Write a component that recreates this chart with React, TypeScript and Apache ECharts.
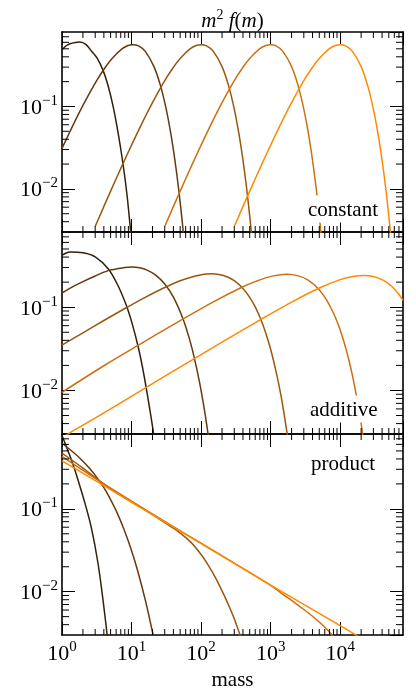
import React, { useEffect, useRef } from "react";
import * as echarts from "echarts";

// ---------- axis extents & ticks ----------
const X_MIN = 1;
const X_MAX = 80000;
const Y_MIN = 0.003;
const Y_MAX = 0.8;
const xMinorTicks = [2, 3, 4, 5, 6, 7, 8, 9, 20, 30, 40, 50, 60, 70, 80, 90, 200, 300, 400, 500, 600, 700, 800, 900, 2000, 3000, 4000, 5000, 6000, 7000, 8000, 9000, 20000, 30000, 40000, 50000, 60000, 70000];
const yMinorTicks = [0.004, 0.005, 0.006, 0.007, 0.008, 0.009, 0.02, 0.03, 0.04, 0.05, 0.06, 0.07, 0.08, 0.09, 0.2, 0.3, 0.4, 0.5, 0.6, 0.7];

const panelLabels = ["constant", "additive", "product"];
const colors = ["#33200c", "#663a0c", "#99570f", "#cc7010", "#ff8a00"];

// ---------- constant kernel ----------
const constM1 = [1, 1.15, 1.3, 1.55, 1.81, 2.2, 2.66, 3.2, 3.91, 4.6, 5.43, 6.4, 7.55, 8.6, 9.74, 10.5];
const constV1 = [0.49, 0.545, 0.575, 0.598, 0.605, 0.566, 0.468, 0.385, 0.272, 0.178, 0.1, 0.048, 0.0199, 0.0085, 0.003, 0.0017];
const constM2 = [1, 1.575, 2.1, 3.15, 4.2, 5.25, 7.35, 8.9, 10.5, 12.6, 15.75, 21, 26.25, 31.5, 36.75, 42, 47.25, 52.5, 57.75, 63];
const constV2 = [0.031, 0.0693, 0.1115, 0.206, 0.299, 0.382, 0.502, 0.549, 0.562, 0.542, 0.466, 0.304, 0.175, 0.0927, 0.0464, 0.0223, 0.0104, 0.0047, 0.0021, 0.0009];
const constM3 = [3, 5, 7.5, 10, 15, 20, 30, 40, 50, 70, 85, 100, 120, 150, 200, 250, 300, 350, 400, 450, 500, 550, 600];
const constV3 = [0.0035, 0.0094, 0.0201, 0.034, 0.0693, 0.1115, 0.206, 0.299, 0.382, 0.502, 0.549, 0.562, 0.542, 0.466, 0.304, 0.175, 0.0927, 0.0464, 0.0223, 0.0104, 0.0047, 0.0021, 0.0009];
const constM4 = [30, 50, 75, 100, 150, 200, 300, 400, 500, 700, 850, 1000, 1200, 1500, 2000, 2500, 3000, 3500, 4000, 4500, 5000, 5500, 6000];
const constV4 = [0.0035, 0.0094, 0.0201, 0.034, 0.0693, 0.1115, 0.206, 0.299, 0.382, 0.502, 0.549, 0.562, 0.542, 0.466, 0.304, 0.175, 0.0927, 0.0464, 0.0223, 0.0104, 0.0047, 0.0021, 0.0009];
const constM5 = [300, 500, 750, 1000, 1500, 2000, 3000, 4000, 5000, 7000, 8500, 10000, 12000, 15000, 20000, 25000, 30000, 35000, 40000, 45000, 50000, 55000, 60000];
const constV5 = [0.0035, 0.0094, 0.0201, 0.034, 0.0693, 0.1115, 0.206, 0.299, 0.382, 0.502, 0.549, 0.562, 0.542, 0.466, 0.304, 0.175, 0.0927, 0.0464, 0.0223, 0.0104, 0.0047, 0.0021, 0.0009];

// ---------- additive kernel ----------
const addM1 = [1, 1.15, 1.3, 2, 3, 4.61, 6.3, 8.45, 10.3, 12.4, 14.3, 16.3, 18.5, 20.8, 22];
const addV1 = [0.42, 0.447, 0.46, 0.452, 0.403, 0.29, 0.186, 0.104, 0.0618, 0.034, 0.0194, 0.0106, 0.0056, 0.003, 0.0022];
const addM2 = [1, 1.5, 2, 3, 4.61, 6, 8, 10, 13, 17, 22, 30, 40, 55, 68, 80, 95, 110, 122, 135];
const addV2 = [0.148, 0.18, 0.203, 0.237, 0.275, 0.287, 0.3, 0.303, 0.297, 0.277, 0.244, 0.19, 0.132, 0.0723, 0.0416, 0.0245, 0.0125, 0.0063, 0.0036, 0.002];
const addM3 = [1, 2, 4, 8, 15, 30, 50, 80, 120, 140, 180, 240, 300, 400, 500, 600, 717, 850, 1000, 1200, 1400, 1600, 1750, 1900];
const addV3 = [0.035, 0.0493, 0.0692, 0.0964, 0.1288, 0.1726, 0.2075, 0.2358, 0.2503, 0.2518, 0.2475, 0.2306, 0.2081, 0.1682, 0.1315, 0.1008, 0.0726, 0.0491, 0.0312, 0.0167, 0.0089, 0.0046, 0.0028, 0.0017];
const addM4 = [1, 4, 12.4, 50, 150, 400, 700, 1100, 1700, 2500, 3500, 4920, 6300, 8060, 9600, 11200, 13000, 14750, 16000, 17400, 19200, 21200, 22500];
const addV4 = [0.0095, 0.0198, 0.0348, 0.0689, 0.1159, 0.1759, 0.2131, 0.2377, 0.2479, 0.2379, 0.2102, 0.1645, 0.1243, 0.084, 0.0585, 0.0395, 0.0252, 0.0161, 0.0116, 0.008, 0.005, 0.0029, 0.0021];
const addM5 = [1, 1.38, 5, 16.3, 80, 250, 717, 2000, 4920, 10000, 15000, 21700, 30000, 42000, 55000, 68000, 80000];
const addV5 = [0.0027, 0.0032, 0.006, 0.0109, 0.0241, 0.0424, 0.071, 0.1152, 0.169, 0.2143, 0.2339, 0.241, 0.2341, 0.21, 0.1783, 0.1468, 0.1208];

// ---------- product kernel ----------
const prodM1 = [1, 1.068, 1.219, 1.359, 1.535, 1.695, 2.114, 2.627, 3.28, 3.87, 4.46, 4.78];
const prodV1 = [0.767, 0.668, 0.5, 0.395, 0.292, 0.224, 0.121, 0.0605, 0.0225, 0.0082, 0.003, 0.0018];
const prodM2 = [1, 1.302, 1.81, 2.52, 3.28, 4.0, 4.87, 6.14, 7.73, 9.74, 12.27, 15.97, 20.1, 21.5];
const prodV2 = [0.619, 0.52, 0.408, 0.304, 0.23, 0.18, 0.135, 0.0913, 0.0574, 0.0334, 0.0178, 0.0076, 0.0032, 0.0024];
const prodM3 = [1, 1.5, 2, 3.28, 5, 10, 20, 30, 45, 71, 100, 124, 160, 214, 260, 300, 363, 390];
const prodV3 = [0.47, 0.37, 0.31, 0.225, 0.175, 0.122, 0.085, 0.068, 0.0546, 0.0396, 0.0281, 0.0215, 0.0149, 0.0091, 0.0063, 0.0047, 0.003, 0.0025];
const prodM4 = [1, 3.28, 10, 30, 100, 300, 1000, 1500, 2158, 3000, 3730, 5000, 6460, 7630, 8200];
const prodV4 = [0.43, 0.222, 0.124, 0.0705, 0.0385, 0.0221, 0.0119, 0.0093, 0.0075, 0.0061, 0.0053, 0.0043, 0.0035, 0.003, 0.0027];
const prodM5 = [1, 3.28, 10, 100, 1000, 10000, 20000];
const prodV5 = [0.38, 0.21, 0.12, 0.038, 0.012, 0.0039, 0.00275];

const panels = [
  [[constM1, constV1], [constM2, constV2], [constM3, constV3], [constM4, constV4], [constM5, constV5]],
  [[addM1, addV1], [addM2, addV2], [addM3, addV3], [addM4, addV4], [addM5, addV5]],
  [[prodM1, prodV1], [prodM2, prodV2], [prodM3, prodV3], [prodM4, prodV4], [prodM5, prodV5]],
];

const FONT = "Liberation Serif";
const grids = [
  { left: 62, top: 32, width: 341, height: 200 },
  { left: 62, top: 232, width: 341, height: 202 },
  { left: 62, top: 434, width: 341, height: 201 },
];
const labelPos = [
  { x: 305, y: 209 },
  { x: 307, y: 409 },
  { x: 308, y: 463 },
];

const supText = (v: number) => {
  const e = Math.round(Math.log10(v));
  return "{b|10}{s|" + (e < 0 ? "\u2212" + -e : String(e)) + "}";
};
const richLabel = {
  b: { fontFamily: FONT, fontSize: 22, lineHeight: 28, color: "#000" },
  s: { fontFamily: FONT, fontSize: 15, lineHeight: 16, verticalAlign: "top", color: "#000" },
};

export default function App() {
  const ref = useRef<HTMLDivElement>(null);
  useEffect(() => {
    if (!ref.current) return;
    const chart = echarts.init(ref.current, undefined, { renderer: "svg" });
    const xAxis: any[] = [];
    const yAxis: any[] = [];
    const series: any[] = [];
    grids.forEach((g, gi) => {
      const axisLine = { show: true, lineStyle: { color: "#000", width: 1.6 } };
      const tick = { show: true, inside: true, length: 13, lineStyle: { color: "#000", width: 1 } };
      xAxis.push({
        type: "log", logBase: 10, gridIndex: gi, min: X_MIN, max: X_MAX, position: "bottom",
        axisLine, axisTick: tick, splitLine: { show: false },
        axisLabel: gi === 2 ? { show: true, margin: 3, formatter: supText, rich: richLabel, showMaxLabel: false, showMinLabel: true } : { show: false },
        name: gi === 2 ? "mass" : "", nameLocation: "middle", nameGap: 33,
        nameTextStyle: { fontFamily: FONT, fontSize: 21, color: "#000" },
      });
      xAxis.push({
        type: "log", logBase: 10, gridIndex: gi, min: X_MIN, max: X_MAX, position: "top",
        axisLine, axisTick: tick, splitLine: { show: false }, axisLabel: { show: false },
      });
      yAxis.push({
        type: "log", logBase: 10, gridIndex: gi, min: Y_MIN, max: Y_MAX, position: "left",
        axisLine, axisTick: tick, splitLine: { show: false },
        axisLabel: { show: true, margin: 4, formatter: supText, rich: richLabel, showMinLabel: false, showMaxLabel: false },
      });
      yAxis.push({
        type: "log", logBase: 10, gridIndex: gi, min: Y_MIN, max: Y_MAX, position: "right",
        axisLine, axisTick: tick, splitLine: { show: false }, axisLabel: { show: false },
      });
      panels[gi].forEach(([ms, vs], ci) => {
        series.push({
          type: "line", xAxisIndex: 2 * gi, yAxisIndex: 2 * gi,
          data: ms.map((m: number, i: number) => [m, vs[i]]),
          symbol: "none", showSymbol: false, smooth: 0.3, clip: true,
          lineStyle: { color: colors[ci], width: 1.5 }, z: 3, silent: true,
        });
      });
      series.push({
        type: "custom", xAxisIndex: 2 * gi, yAxisIndex: 2 * gi, silent: true, z: 4,
        data: xMinorTicks.map((t) => [t, 0.1]),
        renderItem: (params: any, api: any) => {
          const cs = params.coordSys;
          const px = api.coord([api.value(0), 0.1])[0];
          const st = { stroke: "#000", lineWidth: 1 };
          return {
            type: "group",
            children: [
              { type: "line", shape: { x1: px, y1: cs.y + cs.height, x2: px, y2: cs.y + cs.height - 6 }, style: st },
              { type: "line", shape: { x1: px, y1: cs.y, x2: px, y2: cs.y + 6 }, style: st },
            ],
          };
        },
      });
      series.push({
        type: "custom", xAxisIndex: 2 * gi, yAxisIndex: 2 * gi, silent: true, z: 4,
        data: yMinorTicks.map((t) => [1, t]),
        renderItem: (params: any, api: any) => {
          const cs = params.coordSys;
          const py = api.coord([1, api.value(1)])[1];
          const st = { stroke: "#000", lineWidth: 1 };
          return {
            type: "group",
            children: [
              { type: "line", shape: { x1: cs.x, y1: py, x2: cs.x + 7, y2: py }, style: st },
              { type: "line", shape: { x1: cs.x + cs.width, y1: py, x2: cs.x + cs.width - 7, y2: py }, style: st },
            ],
          };
        },
      });
    });

    const graphic: any[] = [
      {
        type: "text", x: 232.5, y: 20, z: 100,
        style: {
          text: "{i|m}{s|2}{i| f}{n|(}{i|m}{n|)}",
          align: "center", verticalAlign: "middle",
          rich: {
            i: { fontFamily: FONT, fontSize: 21, fontStyle: "italic", lineHeight: 26, fill: "#000", color: "#000" },
            n: { fontFamily: FONT, fontSize: 21, lineHeight: 26, fill: "#000", color: "#000" },
            s: { fontFamily: FONT, fontSize: 14, lineHeight: 16, verticalAlign: "top", fill: "#000", color: "#000" },
          },
        },
      },
    ];
    panelLabels.forEach((t, i) => {
      graphic.push({
        type: "text", x: labelPos[i].x, y: labelPos[i].y, z: 100,
        style: {
          text: t, fontFamily: FONT, fontSize: 21, fill: "#000",
          align: "left", verticalAlign: "middle",
          backgroundColor: "#fff", padding: [3, 3, 3, 3],
        },
      });
    });

    chart.setOption({
      animation: false,
      grid: grids.map((g) => ({ ...g, containLabel: false, outerBoundsMode: "none" })),
      xAxis, yAxis, series, graphic,
    });
    return () => chart.dispose();
  }, []);
  return <div ref={ref} style={{ position: "fixed", left: 0, top: 0, width: 416, height: 691 }} />;
}
